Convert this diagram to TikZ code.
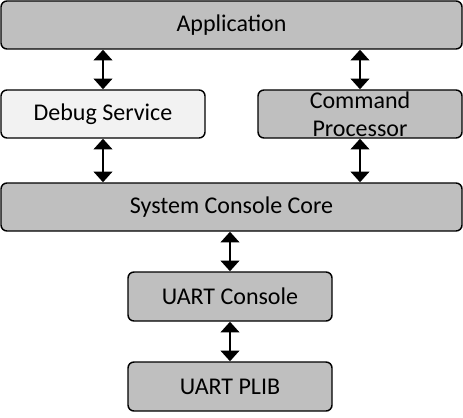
\documentclass[tikz,border=0pt]{standalone}
\usepackage{fontspec}
\setmainfont{Carlito}
\usetikzlibrary{arrows.meta}
\definecolor{boxgray}{HTML}{BFBFBF}
\definecolor{boxlight}{HTML}{F2F2F2}
\tikzset{
  blk/.style={draw=black, line width=1.1pt, rounded corners=4.5pt, fill=boxgray,
    inner sep=0pt, font=\fontsize{18}{21}\selectfont, align=center},
  dar/.style={line width=1.5pt, {Triangle[width=14pt,length=8pt]}-{Triangle[width=14pt,length=8pt]}}
}
\begin{document}
\begin{tikzpicture}[x=0.75pt,y=-0.75pt]
\useasboundingbox (0,0) rectangle (463,417);
\node[blk, minimum width=345.75pt, minimum height=36pt] (app) at (231.5,25) {Application};
\node[blk, fill=boxlight, minimum width=153pt, minimum height=36pt] (dbg) at (103,114) {Debug Service};
\node[blk, minimum width=153pt, minimum height=36pt] (cmd) at (360,114) {Command\\Processor};
\node[blk, minimum width=345.75pt, minimum height=36pt] (core) at (231.5,207) {System Console Core};
\node[blk, minimum width=153pt, minimum height=36.75pt] (uc) at (230,296.5) {UART Console};
\node[blk, minimum width=153pt, minimum height=36.75pt] (plib) at (230,386.5) {UART PLIB};
\draw[dar] (app.south -| dbg) -- (dbg.north);
\draw[dar] (app.south -| cmd) -- (cmd.north);
\draw[dar] (dbg.south) -- (core.north -| dbg);
\draw[dar] (cmd.south) -- (core.north -| cmd);
\draw[dar] (core.south -| uc) -- (uc.north);
\draw[dar] (uc.south) -- (plib.north);
\end{tikzpicture}
\end{document}
